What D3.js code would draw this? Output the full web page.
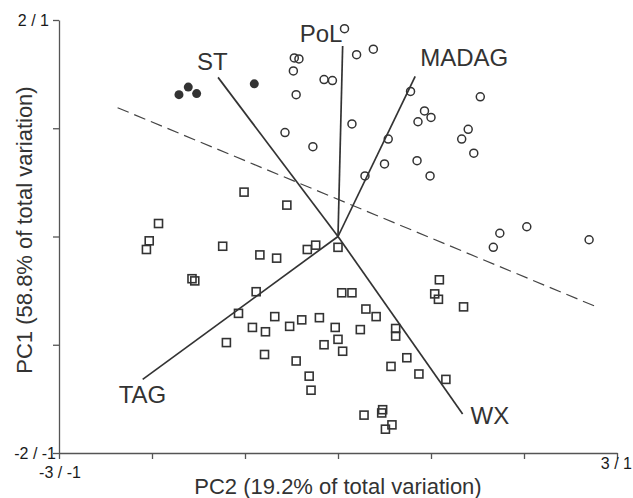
<!DOCTYPE html>
<html>
<head>
<meta charset="utf-8">
<script src="https://cdn.jsdelivr.net/npm/d3@7"></script>
<style>
  body { margin: 0; background: #fff; }
  text { font-family: "Liberation Sans", Arial, sans-serif; fill: #333; }
  text.endlabel { fill: #1a1a1a; }
</style>
</head>
<body>
<div id="container"></div>
<script>
/* CONSTANTS AND GLOBALS */
const width = 633,
  height = 498,
  margin = { top: 20, bottom: 46, left: 59, right: 16 };

// group 1: filled circles [PC2, PC1]
const filledCircles = [
  [-1.71, 1.31], [-1.61, 1.38], [-1.52, 1.32], [-0.90, 1.41]
];

// group 2: open circles
const openCircles = [
  [0.07, 1.92], [-0.47, 1.65], [-0.42, 1.64], [-0.48, 1.53], [0.20, 1.68],
  [0.38, 1.73], [-0.15, 1.45], [-0.06, 1.44], [-0.45, 1.31], [0.15, 1.04],
  [-0.57, 0.96], [-0.27, 0.83], [0.54, 0.90], [0.50, 0.67], [0.29, 0.56],
  [0.78, 1.34], [1.53, 1.29], [0.93, 1.16], [1.00, 1.10], [0.86, 1.06],
  [1.40, 0.99], [1.33, 0.90], [1.46, 0.77], [0.85, 0.70], [0.99, 0.56],
  [1.74, 0.03], [2.03, 0.09], [1.67, -0.10], [2.70, -0.03]
];

// group 3: open squares
const openSquares = [
  [-1.93, 0.12], [-2.03, -0.04], [-2.06, -0.12], [-1.57, -0.39], [-1.54, -0.41],
  [-1.01, 0.41], [-0.55, 0.29], [-1.24, -0.09], [-0.84, -0.17], [-0.66, -0.20],
  [-0.33, -0.12], [-0.24, -0.08], [0.00, -0.10], [-0.88, -0.51], [-1.07, -0.71],
  [0.04, -0.52], [0.15, -0.52], [0.30, -0.67], [0.41, -0.74], [-0.68, -0.74],
  [-0.92, -0.84], [-0.78, -0.88], [-0.52, -0.83], [-0.39, -0.77], [-0.20, -0.75],
  [-0.03, -0.84], [0.24, -0.86], [0.62, -0.85], [0.62, -0.92], [-1.20, -0.98],
  [-0.79, -1.09], [-0.15, -1.00], [0.00, -0.95], [0.05, -1.06], [0.74, -1.12],
  [-0.45, -1.15], [-0.31, -1.29], [-0.29, -1.42], [0.57, -1.20], [0.87, -1.27],
  [0.28, -1.65], [0.48, -1.60], [0.47, -1.63], [0.58, -1.74], [0.51, -1.78],
  [1.09, -0.40], [1.04, -0.53], [1.08, -0.58], [1.35, -0.65], [1.16, -1.32]
];

// loading vectors
const vectorNames = ["ST", "PoL", "MADAG", "TAG", "WX"];
const vectorEnds = [[-1.29, 1.47], [0.05, 1.76], [0.83, 1.48], [-2.10, -1.32], [1.34, -1.64]];

// dashed separating line
const dashedLine = [[-2.37, 1.19], [2.78, -0.65]];

// axis ticks and labels
const xTicks = [-3, -2, -1, 0, 1, 2, 3];
const yTicks = [-2, -1, 0, 1, 2];
const xEndLabels = ["-3 / -1", "3 / 1"];
const yEndLabels = ["-2 / -1", "2 / 1"];
const xTitle = "PC2 (19.2% of total variation)";
const yTitle = "PC1 (58.8% of total variation)";

// APPEND SVG
const svg = d3.select("#container")
  .append("svg")
  .attr("width", width)
  .attr("height", height);

// SCALES
const x = d3.scaleLinear().domain([-3, 3]).range([margin.left, 617]);
const y = d3.scaleLinear().domain([-2, 2]).range([453, margin.top]);

// AXES
const xAxis = d3.axisBottom(x).tickValues(xTicks).tickSize(6).tickSizeOuter(0).tickFormat("");
const yAxis = d3.axisLeft(y).tickValues(yTicks).tickSize(6).tickSizeOuter(0).tickFormat("");

svg.append("g")
  .attr("transform", `translate(0, ${y(-2)})`)
  .call(xAxis)
  .call(g => g.selectAll("path, line").attr("stroke", "#555").attr("stroke-width", 1.3));

svg.append("g")
  .attr("transform", `translate(${x(-3)}, 0)`)
  .call(yAxis)
  .call(g => g.selectAll("path, line").attr("stroke", "#555").attr("stroke-width", 1.3));

// end tick labels (placed like the original figure)
svg.append("text").attr("class", "endlabel")
  .attr("x", x(-3) + 1).attr("y", y(-2) + 25)
  .attr("text-anchor", "middle").attr("font-size", 16)
  .text(xEndLabels[0]);
svg.append("text").attr("class", "endlabel")
  .attr("x", 632).attr("y", y(-2) + 16)
  .attr("text-anchor", "end").attr("font-size", 16)
  .text(xEndLabels[1]);
svg.append("text").attr("class", "endlabel")
  .attr("x", x(-3) - 3).attr("y", y(-2) + 6)
  .attr("text-anchor", "end").attr("font-size", 16)
  .text(yEndLabels[0]);
svg.append("text").attr("class", "endlabel")
  .attr("x", x(-3) - 10).attr("y", y(2) + 6)
  .attr("text-anchor", "end").attr("font-size", 16)
  .text(yEndLabels[1]);

// axis titles
svg.append("text")
  .attr("x", 338).attr("y", 494)
  .attr("text-anchor", "middle").attr("font-size", 22)
  .text(xTitle);
svg.append("text")
  .attr("transform", "translate(32, 230) rotate(-90)")
  .attr("text-anchor", "middle").attr("font-size", 22)
  .text(yTitle);

// DASHED LINE
svg.append("line")
  .attr("x1", x(dashedLine[0][0])).attr("y1", y(dashedLine[0][1]))
  .attr("x2", x(dashedLine[1][0])).attr("y2", y(dashedLine[1][1]))
  .attr("stroke", "#444")
  .attr("stroke-width", 1.2)
  .attr("stroke-dasharray", "12,6");

// VECTORS
const vectors = vectorNames.map((name, i) => ({ name, end: vectorEnds[i] }));

svg.selectAll("line.vector")
  .data(vectors)
  .join("line")
  .attr("class", "vector")
  .attr("x1", x(0)).attr("y1", y(0))
  .attr("x2", d => x(d.end[0]))
  .attr("y2", d => y(d.end[1]))
  .attr("stroke", "#333")
  .attr("stroke-width", 1.7);

// label offsets from vector tips (px)
const labelOffset = {
  ST: [-21, -7],
  PoL: [-43, -4],
  MADAG: [5, -10],
  TAG: [-24, 24],
  WX: [8, 10]
};

svg.selectAll("text.vlabel")
  .data(vectors)
  .join("text")
  .attr("class", "vlabel")
  .attr("x", d => x(d.end[0]) + labelOffset[d.name][0])
  .attr("y", d => y(d.end[1]) + labelOffset[d.name][1])
  .attr("font-size", 24)
  .text(d => d.name);

// POINTS
svg.selectAll("rect.sq")
  .data(openSquares)
  .join("rect")
  .attr("class", "sq")
  .attr("x", d => x(d[0]) - 4)
  .attr("y", d => y(d[1]) - 4)
  .attr("width", 8)
  .attr("height", 8)
  .attr("fill", "none")
  .attr("stroke", "#333")
  .attr("stroke-width", 1.6);

svg.selectAll("circle.open")
  .data(openCircles)
  .join("circle")
  .attr("class", "open")
  .attr("cx", d => x(d[0]))
  .attr("cy", d => y(d[1]))
  .attr("r", 4)
  .attr("fill", "none")
  .attr("stroke", "#333")
  .attr("stroke-width", 1.5);

svg.selectAll("circle.filled")
  .data(filledCircles)
  .join("circle")
  .attr("class", "filled")
  .attr("cx", d => x(d[0]))
  .attr("cy", d => y(d[1]))
  .attr("r", 4.5)
  .attr("fill", "#333");
</script>
</body>
</html>
